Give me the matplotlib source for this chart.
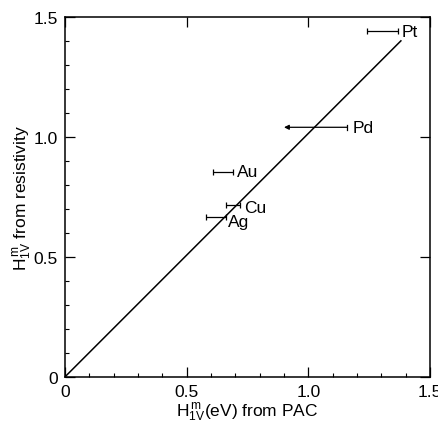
"""Vacancy migration enthalpy: resistivity vs PAC values for fcc metals."""

import matplotlib.pyplot as plt
from matplotlib.ticker import MultipleLocator

plt.rcParams["font.family"] = ["Liberation Sans", "DejaVu Sans"]
plt.rcParams["mathtext.fontset"] = "custom"
plt.rcParams["mathtext.rm"] = "Liberation Sans"
plt.rcParams["mathtext.it"] = "Liberation Sans"

# metals with PAC range (low, high) and resistivity value
metals = ["Pt", "Au", "Cu", "Ag"]
pac_low = [1.24, 0.61, 0.66, 0.58]
pac_high = [1.37, 0.69, 0.72, 0.66]
resistivity = [1.44, 0.855, 0.717, 0.667]

# Pd only has an upper bound from PAC
pd_low, pd_high, pd_res = 0.90, 1.16, 1.04

# reference line
line_x = [0.0, 1.38]
line_y = [0.0, 1.40]

fig = plt.figure(figsize=(4.38, 4.35), dpi=100)
ax = fig.add_axes([0.148, 0.131, 0.834, 0.828])

ax.plot(line_x, line_y, color="black", linewidth=1.1)

for name, lo, hi, y in zip(metals, pac_low, pac_high, resistivity):
    mid = (lo + hi) / 2
    ax.errorbar(mid, y, xerr=[[mid - lo], [hi - mid]], fmt="none",
                ecolor="black", elinewidth=0.9, capsize=2.5, capthick=0.9)

ax.annotate("", xy=(pd_low, pd_res), xytext=(pd_high, pd_res),
            arrowprops=dict(arrowstyle="-|>", color="black", lw=0.9,
                            mutation_scale=7, shrinkA=0, shrinkB=0))
ax.plot([pd_high, pd_high], [pd_res - 0.01, pd_res + 0.01], color="black", lw=0.9)

label_offsets = {"Pt": (0.015, 0.0), "Au": (0.015, 0.0), "Cu": (0.015, -0.01),
                 "Ag": (0.01, -0.02)}
for name, hi, y in zip(metals, pac_high, resistivity):
    dx, dy = label_offsets[name]
    ax.text(hi + dx, y + dy, name, fontsize=12.5, va="center", ha="left")
ax.text(pd_high + 0.02, pd_res, "Pd", fontsize=12.5, va="center", ha="left")

ax.set_xlim(0, 1.5)
ax.set_ylim(0, 1.5)
ax.set_xticks([0, 0.5, 1.0, 1.5])
ax.set_yticks([0, 0.5, 1.0, 1.5])
ax.set_xticklabels(["0", "0.5", "1.0", "1.5"])
ax.set_yticklabels(["0", "0.5", "1.0", "1.5"])
ax.xaxis.set_minor_locator(MultipleLocator(0.1))
ax.yaxis.set_minor_locator(MultipleLocator(0.1))
ax.tick_params(which="major", direction="in", length=7, width=0.9,
               labelsize=12.5, top=True, right=True, pad=5)
ax.tick_params(which="minor", direction="in", length=3, width=0.8)

for spine in ax.spines.values():
    spine.set_linewidth(1.1)

ax.set_xlabel(r"$\mathrm{H}^{\,\mathrm{m}}_{\mathrm{1V}}$(eV) from PAC", fontsize=12.5, labelpad=1)
ax.set_ylabel(r"$\mathrm{H}^{\,\mathrm{m}}_{\mathrm{1V}}$ from resistivity", fontsize=12.5, labelpad=0)

fig.savefig("out.png", dpi=100)
